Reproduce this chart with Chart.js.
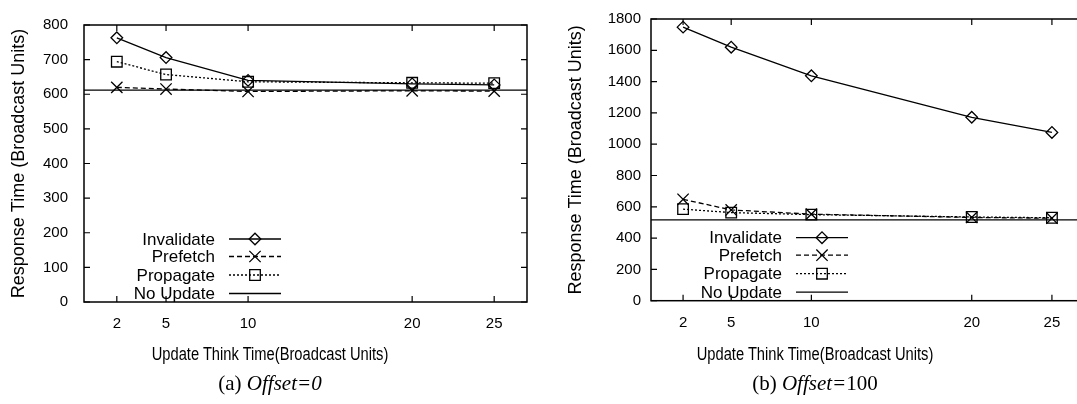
<!DOCTYPE html>
<html>
<head>
<meta charset="utf-8">
<script src="https://cdn.jsdelivr.net/npm/chart.js@4.4.1/dist/chart.umd.min.js"></script>
<style>
    html, body { margin: 0; padding: 0; background: #fff; overflow: hidden; }
    #wrap { position: relative; width: 1077px; height: 404px; overflow: hidden; }
    canvas { position: absolute; top: 0; }
    #chartA { left: 0; }
    #chartB { left: 540px; }
    .xtitle, .cap { position: absolute; white-space: nowrap; color: #000; }
    .xtitle { top: 344px; font-family: "Liberation Sans", Arial, sans-serif; font-size: 17.5px; transform: translateX(-50%) scaleX(0.84); }
    .cap { top: 371px; font-family: "Liberation Serif", "Times New Roman", serif; font-size: 21px; transform: translateX(-50%); }
</style>
</head>
<body>
<div id="wrap">
    <canvas id="chartA" width="540" height="404"></canvas>
    <canvas id="chartB" width="560" height="404"></canvas>
    <div class="xtitle" style="left:270px">Update Think Time(Broadcast Units)</div>
    <div class="xtitle" style="left:815px">Update Think Time(Broadcast Units)</div>
    <div class="cap" style="left:270px">(a) <i>Offset=0</i></div>
    <div class="cap" style="left:815px">(b) <i>Offset=</i>100</div>
</div>
<script>
// x 값 (Update Think Time)
const thinkTimes = [2, 5, 10, 20, 25];
const xLimits = [0, 27];
const seriesNames = ['Invalidate', 'Prefetch', 'Propagate', 'No Update'];

// (a) Offset=0
const invalidateA = [763, 706, 640, 630, 627];
const prefetchA = [620, 615, 608, 610, 609];
const propagateA = [694, 657, 636, 633, 632];
const noUpdateA = 612;
const yTicksA = [0, 100, 200, 300, 400, 500, 600, 700, 800];

// (b) Offset=100
const invalidateB = [1748, 1620, 1437, 1172, 1075];
const prefetchB = [648, 580, 553, 532, 527];
const propagateB = [585, 563, 550, 535, 530];
const noUpdateB = 517;
const yTicksB = [0, 200, 400, 600, 800, 1000, 1200, 1400, 1600, 1800];

Chart.defaults.font.family = '"Liberation Sans", Arial, sans-serif';
Chart.defaults.color = '#000';

function buildDatasets(inv, pre, pro, noUpd) {
    const pts = ys => thinkTimes.map((x, i) => ({ x: x, y: ys[i] }));
    const base = { borderColor: '#000', pointBorderColor: '#000', pointBackgroundColor: 'rgba(0,0,0,0)', borderWidth: 1.3, pointBorderWidth: 1.3, tension: 0 };
    return [
        Object.assign({}, base, { label: seriesNames[0], data: pts(inv), pointStyle: 'rectRot', pointRadius: 5.8 }),
        Object.assign({}, base, { label: seriesNames[1], data: pts(pre), pointStyle: 'crossRot', pointRadius: 8, borderDash: [5, 3] }),
        Object.assign({}, base, { label: seriesNames[2], data: pts(pro), pointStyle: 'rect', pointRadius: 7.5, borderDash: [2, 2] }),
        Object.assign({}, base, { label: seriesNames[3], data: xLimits.map(x => ({ x: x, y: noUpd })), pointRadius: 0 })
    ];
}

// 테두리 + 안쪽 눈금 (gnuplot 스타일)
const frameTicks = {
    id: 'frameTicks',
    afterDraw(chart) {
        const { ctx, chartArea: a, scales } = chart;
        const len = 6;
        ctx.save();
        ctx.strokeStyle = '#000';
        ctx.lineWidth = 1.5;
        ctx.strokeRect(a.left, a.top, a.right - a.left, a.bottom - a.top);
        ctx.lineWidth = 1.2;
        ctx.beginPath();
        scales.x.ticks.forEach(t => {
            const x = scales.x.getPixelForValue(t.value);
            ctx.moveTo(x, a.bottom); ctx.lineTo(x, a.bottom - len);
            ctx.moveTo(x, a.top); ctx.lineTo(x, a.top + len);
        });
        scales.y.ticks.forEach(t => {
            const y = scales.y.getPixelForValue(t.value);
            ctx.moveTo(a.left, y); ctx.lineTo(a.left + len, y);
            ctx.moveTo(a.right, y); ctx.lineTo(a.right - len, y);
        });
        ctx.stroke();
        ctx.restore();
    }
};

// 그래프 안쪽 범례
const inlineLegend = {
    id: 'inlineLegend',
    afterDatasetsDraw(chart) {
        const { ctx, chartArea: a } = chart;
        const rows = [-63, -45.5, -27, -8.5];
        const textRight = a.left + 131, lineL = a.left + 145, lineR = a.left + 197, mark = a.left + 171;
        ctx.save();
        ctx.font = '17px "Liberation Sans", Arial, sans-serif';
        ctx.textAlign = 'right';
        ctx.textBaseline = 'middle';
        chart.data.datasets.forEach((ds, i) => {
            const y = a.bottom + rows[i];
            ctx.fillStyle = '#000';
            ctx.fillText(ds.label, textRight, y + 1);
            ctx.strokeStyle = '#000';
            ctx.lineWidth = ds.borderWidth;
            ctx.setLineDash(ds.borderDash || []);
            ctx.beginPath();
            ctx.moveTo(lineL, y); ctx.lineTo(lineR, y);
            ctx.stroke();
            ctx.setLineDash([]);
            if (ds.pointRadius > 0) {
                ctx.fillStyle = 'rgba(0,0,0,0)';
                ctx.lineWidth = ds.pointBorderWidth;
                Chart.helpers.drawPoint(ctx, { pointStyle: ds.pointStyle, radius: ds.pointRadius, rotation: 0, borderWidth: ds.pointBorderWidth }, mark, y);
            }
        });
        ctx.restore();
    }
};

function makeChart(id, datasets, yTicks, lay) {
    return new Chart(document.getElementById(id), {
        type: 'line',
        data: { datasets: datasets },
        options: {
            responsive: false,
            animation: false,
            layout: { padding: { top: lay.top, right: lay.right, left: 0, bottom: 0 } },
            plugins: { legend: { display: false }, tooltip: { enabled: false } },
            scales: {
                x: {
                    type: 'linear',
                    min: xLimits[0],
                    max: xLimits[1],
                    grid: { display: false, drawTicks: false },
                    border: { display: false },
                    afterBuildTicks: s => { s.ticks = thinkTimes.map(v => ({ value: v })); },
                    afterFit: s => { s.height = lay.xHeight; },
                    ticks: { font: { size: 15 }, padding: 13, autoSkip: false, maxRotation: 0, callback: v => String(v) }
                },
                y: {
                    min: yTicks[0],
                    max: yTicks[yTicks.length - 1],
                    grid: { display: false, drawTicks: false },
                    border: { display: false },
                    afterBuildTicks: s => { s.ticks = yTicks.map(v => ({ value: v })); },
                    afterFit: s => { s.width = lay.yWidth; },
                    ticks: { font: { size: 15 }, padding: lay.tickPad, autoSkip: false, callback: v => String(v) },
                    title: {
                        display: true,
                        text: 'Response Time (Broadcast Units)',
                        font: { size: 18 },
                        padding: { top: lay.titlePad, bottom: 0 }
                    }
                }
            }
        },
        plugins: [frameTicks, inlineLegend]
    });
}

makeChart('chartA', buildDatasets(invalidateA, prefetchA, propagateA, noUpdateA), yTicksA,
    { top: 13.5, right: 13, xHeight: 102, yWidth: 84, tickPad: 16, titlePad: 8 });
makeChart('chartB', buildDatasets(invalidateB, prefetchB, propagateB, noUpdateB), yTicksB,
    { top: 13.3, right: 16, xHeight: 103.3, yWidth: 111, tickPad: 10, titlePad: 25 });
</script>
</body>
</html>
